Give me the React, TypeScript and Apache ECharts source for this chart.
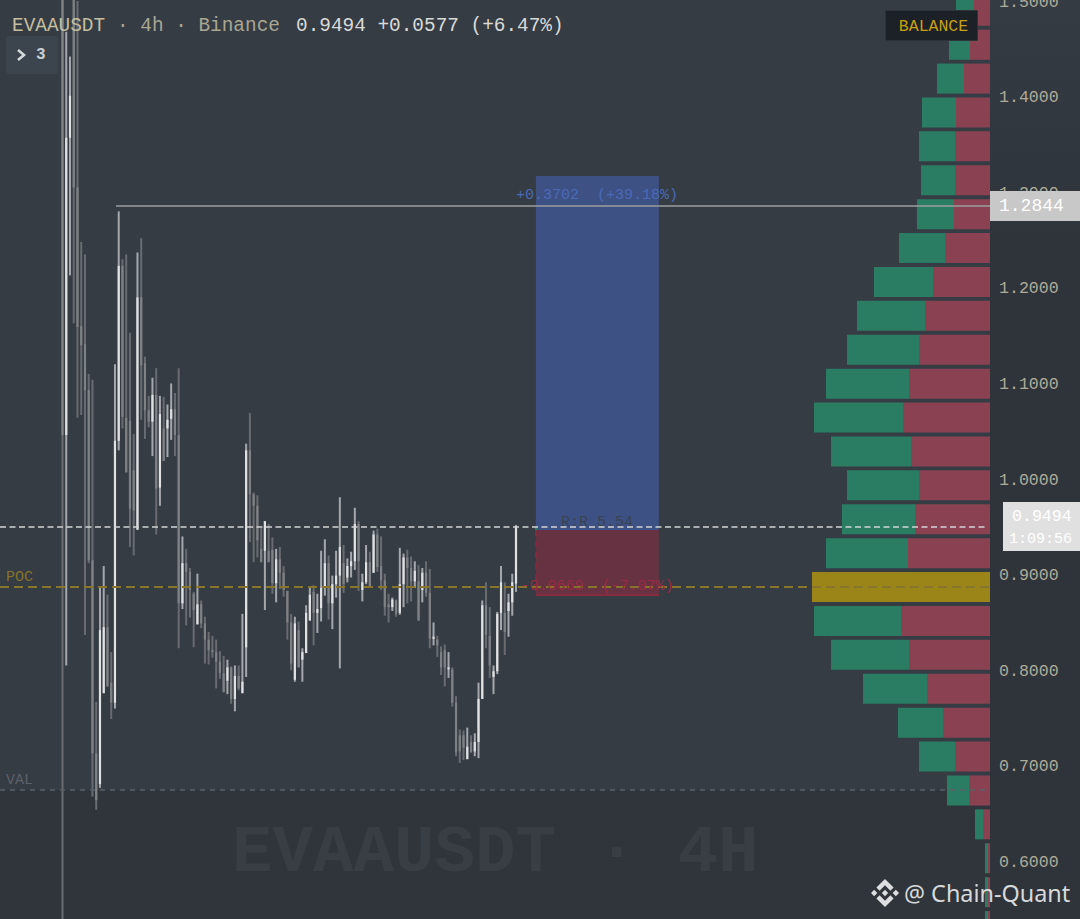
import React, { useEffect, useRef } from "react";
import * as echarts from "echarts";

const MONO = '"Liberation Mono", monospace';

// OHLC per 4h candle
const HIGH = [
  1.53,1.469,1.443,1.52,1.501,1.249,1.236,1.111,1.105,.768,
  .889,.910,.880,.820,1.121,1.281,1.231,1.236,1.154,1.048,
  1.238,1.253,1.129,1.088,1.107,1.117,1.088,1.087,1.079,1.101,
  1.091,1.117,.941,.928,.908,.883,.902,.874,.857,.841,
  .837,.833,.821,.816,.812,.805,.806,.806,.860,1.038,
  1.070,.987,.984,.950,.957,.954,.940,.928,.930,.910,
  .884,.860,.857,.852,.824,.869,.888,.890,.881,.926,
  .938,.921,.900,.926,.982,.932,.918,.925,.971,.957,
  .902,.932,.925,.947,.949,.941,.902,.881,.877,.875,
  .929,.923,.927,.920,.915,.911,.908,.915,.907,.851,
  .837,.826,.828,.820,.804,.774,.739,.738,.741,.733,
  .735,.788,.874,.893,.867,.806,.862,.910,.893,.881,.902,.953,
];
const OPEN = [
  1.52,1.047,1.358,1.507,1.306,1.161,1.142,1.094,.916,.714,
  .682,.777,.846,.788,.767,1.041,1.224,1.065,1.062,1.010,
  .948,1.191,1.122,1.073,1.061,1.089,.992,1.054,1.054,1.064,
  1.074,1.047,.871,.913,.904,.881,.849,.870,.850,.833,
  .822,.820,.810,.798,.790,.804,.771,.795,.777,.825,
  1.031,.985,.973,.928,.926,.926,.927,.892,.917,.903,
  .884,.851,.791,.843,.812,.819,.853,.883,.861,.866,
  .887,.913,.871,.891,.900,.913,.898,.910,.915,.954,
  .885,.893,.914,.903,.943,.910,.895,.870,.867,.874,
  .861,.891,.919,.908,.894,.894,.885,.903,.882,.834,
  .833,.820,.822,.802,.802,.767,.733,.733,.708,.726,
  .716,.726,.771,.869,.837,.794,.800,.861,.861,.863,.872,.8917,
];
const CLOSE = [
  1.047,1.358,1.402,1.306,1.160,1.141,1.094,.916,.714,.665,
  .843,.846,.784,.767,1.041,1.224,1.066,1.008,.970,.968,
  1.191,1.120,1.073,1.061,1.089,.991,1.069,1.020,1.063,1.074,
  1.047,.871,.913,.904,.885,.864,.870,.850,.833,.822,
  .820,.810,.798,.778,.804,.771,.795,.782,.789,1.031,
  .985,.973,.937,.914,.957,.914,.892,.917,.903,.885,
  .851,.808,.850,.804,.820,.861,.880,.861,.865,.887,
  .913,.871,.891,.900,.930,.891,.910,.915,.954,.915,
  .893,.914,.889,.943,.909,.895,.867,.867,.875,.860,
  .891,.919,.908,.894,.905,.853,.903,.882,.834,.836,
  .827,.804,.804,.804,.767,.715,.716,.720,.721,.715,
  .726,.771,.869,.838,.806,.800,.860,.893,.841,.872,.893,.951,
];
const LOW = [
  .52,.806,1.214,1.164,1.065,1.068,.838,.913,.669,.655,
  .678,.777,.784,.750,.761,1.031,1.054,1.008,.930,.921,
  .948,1.063,1.043,1.055,1.025,.943,.973,1.020,1.024,1.042,
  1.025,.824,.865,.848,.856,.825,.849,.845,.808,.807,
  .814,.782,.792,.778,.776,.766,.758,.780,.777,.794,
  .935,.914,.919,.914,.864,.914,.881,.872,.886,.878,
  .833,.801,.789,.804,.789,.819,.853,.827,.840,.852,
  .879,.854,.844,.877,.803,.882,.893,.898,.906,.884,
  .873,.891,.889,.903,.904,.885,.858,.851,.863,.857,
  .859,.867,.871,.873,.887,.853,.872,.878,.824,.827,
  .815,.796,.784,.793,.763,.711,.704,.707,.708,.715,
  .711,.709,.771,.824,.793,.776,.797,.843,.817,.836,.858,.883,
];

// Volume profile rows
const PROFILE_PRICE = [
  1.4908,1.4553,1.4199,1.3844,1.3490,1.3135,1.2781,1.2426,1.2071,1.1717,
  1.1362,1.1008,1.0653,1.0298,.9944,.9589,.9235,.888,.8525,.8171,
  .7816,.7462,.7107,.6752,.6398,.6043,.5689,.5334,
];
const PROFILE_BUY = [18,21,27,34,36,34,37,46,59,68,72,83,89,80,72,73,82,90,87,78,64,45,36,22,8,3,3,3];
const PROFILE_SELL = [16,20,26,34,35,35,36,45,57,65,71,81,87,79,71,75,82,88,89,81,63,47,35,21,7,2,2,2];
const POC_ROW = 17;
const ROW_HEIGHT = 0.0314;

const TICKS = [0.6, 0.7, 0.8, 0.9, 1.0, 1.1, 1.2, 1.3, 1.4, 1.5];

const AXIS_MIN = 0.5408;
const AXIS_MAX = 1.5021;
const X_MIN = -16.675;
const X_MAX = 247.47;

const HIGH_LEVEL = 1.2866;
const HIGH_START = 14.27;
const LAST_LEVEL = 0.9509;
const POC_LEVEL = 0.888;
const VAL_LEVEL = 0.6757;
const TARGET = 1.318;
const ENTRY = 0.9478;
const STOP = 0.8799;
const POS_START = 126.3;
const POS_END = 159.1;

const candleData = HIGH.map((h, i) => [i, OPEN[i], CLOSE[i], LOW[i], h]);
const profileData = PROFILE_PRICE.map((p, i) => [p, PROFILE_BUY[i], PROFILE_SELL[i], i]);

const BINANCE =
  "M16.624 13.9202l2.7175 2.7154-7.353 7.353-7.353-7.352 2.7175-2.7164 4.6355 4.6595 4.6356-4.6595zm4.6366-4.6366L24 12l-2.7154 2.7164L18.5682 12l2.6924-2.7164zm-9.272.001l2.7163 2.6914-2.7164 2.7174v-.001L9.2721 12l2.7164-2.7154zm-9.2722-.001L5.4088 12l-2.6914 2.6924L0 12l2.7164-2.7164zM11.9885.0115l7.353 7.329-2.7174 2.7154-4.6356-4.6356-4.6355 4.6595-2.7174-2.7154 7.353-7.353z";
echarts.graphic.registerShape("binanceLogo", echarts.graphic.extendPath(BINANCE, {}));

const txt = (text: string, x: number, y: number, fill: string, font: string, align = "left", extra: any = {}) => ({
  type: "text",
  x,
  y,
  z: 50,
  silent: true,
  style: { text, fill, font, align, verticalAlign: "middle", ...extra },
});

function renderCandle(_: any, api: any) {
  const i = api.value(0);
  const o = api.value(1);
  const c = api.value(2);
  const up = c >= o;
  const x = api.coord([i, o])[0];
  const yH = api.coord([i, api.value(4)])[1];
  const yL = api.coord([i, api.value(3)])[1];
  const yO = api.coord([i, o])[1];
  const yC = api.coord([i, c])[1];
  const top = Math.min(yO, yC);
  const h = Math.abs(yO - yC);
  return {
    type: "group",
    children: [
      { type: "rect", shape: { x: x - 1, y: yH, width: 2, height: yL - yH }, style: { fill: up ? "#a4a8ac" : "#686c70" } },
      { type: "rect", shape: { x: x - 1.1, y: top, width: 2.2, height: h }, style: { fill: up ? "#dfe1e3" : "#7e8285" } },
    ],
  };
}

function renderProfile(_: any, api: any) {
  const p = api.value(0);
  const buy = api.value(1);
  const sell = api.value(2);
  const row = api.value(3);
  const poc = row === POC_ROW;
  const yT = api.coord([0, p + ROW_HEIGHT / 2])[1];
  const yB = api.coord([0, p - ROW_HEIGHT / 2])[1];
  const x0 = api.coord([0, p])[0];
  const x1 = api.coord([sell, p])[0];
  const x2 = api.coord([sell + buy, p])[0];
  return {
    type: "group",
    children: [
      { type: "rect", shape: { x: x1, y: yT, width: x0 - x1, height: yB - yT }, style: { fill: poc ? "#9b8519" : "#8a4252" } },
      { type: "rect", shape: { x: x2, y: yT, width: x1 - x2, height: yB - yT }, style: { fill: poc ? "#9b8519" : "#2a7d63" } },
    ],
  };
}

const line = (x1: number, y1: number, x2: number, y2: number, color: string, width: number, type: any) => [
  { coord: [x1, y1], lineStyle: { color, width, type, opacity: 1 } },
  { coord: [x2, y2] },
];

export default function App() {
  const ref = useRef<HTMLDivElement>(null);
  useEffect(() => {
    const chart = echarts.init(ref.current!, null, { renderer: "svg" });
    chart.setOption({
      animation: false,
      backgroundColor: "#353c44",
      grid: { left: 0, right: 90, top: 0, bottom: 0, containLabel: false, outerBoundsMode: "none" },
      xAxis: [
        { type: "value", min: X_MIN, max: X_MAX, show: false },
        { type: "value", min: 0, max: 990, inverse: true, show: false },
      ],
      yAxis: {
        type: "value",
        min: AXIS_MIN,
        max: AXIS_MAX,
        position: "right",
        axisLine: { show: false },
        axisTick: { show: false },
        splitLine: { show: false },
        axisLabel: {
          customValues: TICKS,
          margin: 9,
          color: "#aeab99",
          fontFamily: MONO,
          fontSize: 16.6,
          formatter: (v: number) => v.toFixed(4),
        },
      },
      series: [
        {
          type: "line",
          z: 0,
          silent: true,
          showSymbol: false,
          data: [[0, VAL_LEVEL]],
          lineStyle: { width: 0 },
          markArea: {
            silent: true,
            z: 0,
            data: [
              [{ coord: [X_MIN, VAL_LEVEL], itemStyle: { color: "#2f353b", opacity: 1 } }, { coord: [X_MAX, AXIS_MIN] }],
            ],
          },
        },
        {
          type: "custom",
          z: 3,
          silent: true,
          clip: true,
          xAxisIndex: 0,
          yAxisIndex: 0,
          renderItem: renderCandle,
          data: candleData,
        },
        {
          type: "custom",
          z: 2,
          silent: true,
          xAxisIndex: 1,
          yAxisIndex: 0,
          renderItem: renderProfile,
          data: profileData,
        },
        {
          type: "line",
          z: 4,
          silent: true,
          showSymbol: false,
          data: [[POS_START, ENTRY]],
          lineStyle: { width: 0 },
          markArea: {
            silent: true,
            z: 1,
            data: [
              [{ coord: [POS_START, TARGET], itemStyle: { color: "#3d5185", opacity: 1 } }, { coord: [POS_END, ENTRY] }],
              [{ coord: [POS_START, ENTRY], itemStyle: { color: "#673342", opacity: 1 } }, { coord: [POS_END, STOP] }],
            ],
          },
          markLine: {
            silent: true,
            symbol: "none",
            label: { show: false },
            z: 6,
            data: [
              line(POS_START, STOP, POS_END, STOP, "#8a2a3f", 2, "solid"),
              line(POS_START, ENTRY, POS_START, STOP, "#8f2a40", 1.5, [6, 5]),
              line(POS_START, LAST_LEVEL, POS_START, ENTRY, "#2a7d63", 2, "solid"),
              line(X_MIN, VAL_LEVEL, X_MAX, VAL_LEVEL, "#5a6068", 1.5, [5, 5]),
              line(X_MIN, POC_LEVEL, X_MAX, POC_LEVEL, "#86752a", 2, [9, 5]),
              line(X_MIN, LAST_LEVEL, 246.9, LAST_LEVEL, "#d2d4d5", 1.6, [6, 3.5]),
              line(HIGH_START, HIGH_LEVEL, X_MAX, HIGH_LEVEL, "#9b9e9f", 1.6, "solid"),
            ],
          },
        },
      ],
      graphic: [
        {
          type: "rect",
          z: -1,
          silent: true,
          shape: { x: 990, y: 0, width: 90, height: 919 },
          style: {
            fill: new echarts.graphic.LinearGradient(0, 0, 0, 1, [
              { offset: 0, color: "#353b43" },
              { offset: 0.26, color: "#2e343a" },
              { offset: 1, color: "#2e343a" },
            ]),
          },
        },
        {
          type: "text",
          x: 232,
          y: 853,
          z: 1,
          silent: true,
          style: { text: "EVAAUSDT · 4H", fill: "#383e44", font: `bold 67.5px ${MONO}`, align: "left", verticalAlign: "middle" },
        },
        txt("EVAAUSDT", 12, 26, "#c4bd9f", `19.4px ${MONO}`),
        txt("· 4h · Binance", 117, 26, "#a9a693", `19.4px ${MONO}`),
        txt("0.9494 +0.0577 (+6.47%)", 296, 26, "#d9dad8", `19.4px ${MONO}`),
        { type: "rect", z: 49, silent: true, shape: { x: 6, y: 36, width: 52, height: 38, r: 3 }, style: { fill: "#3c444e" } },
        {
          type: "polyline",
          z: 50,
          silent: true,
          shape: { points: [[18, 50], [24, 55], [18, 60]] },
          style: { stroke: "#d5d8da", lineWidth: 2.6, fill: "none" },
        },
        txt("3", 36, 55, "#c9ced2", `bold 16px ${MONO}`),
        {
          type: "rect",
          z: 49,
          silent: true,
          shape: { x: 885.5, y: 10.5, width: 92, height: 30, r: 1 },
          style: { fill: "#1b2126", stroke: "#2c343a", lineWidth: 1 },
        },
        txt("BALANCE", 933.5, 26, "#c89f11", `16.5px ${MONO}`, "center"),
        txt("POC", 6, 577, "#84732a", `15px ${MONO}`),
        txt("VAL", 6, 780, "#5b6169", `15px ${MONO}`),
        txt("+0.3702  (+39.18%)", 597, 195, "#4a6ab5", `15px ${MONO}`, "center"),
        txt("R:R 5.54", 597, 522, "#3a4352", `15px ${MONO}`, "center"),
        txt("-0.0669  (-7.07%)", 597, 586, "#9a2a42", `15px ${MONO}`, "center"),
        { type: "rect", z: 49, silent: true, shape: { x: 990, y: 191, width: 90, height: 30 }, style: { fill: "#c8c8c8" } },
        txt("1.2844", 999, 206, "#ffffff", `18px ${MONO}`),
        { type: "rect", z: 49, silent: true, shape: { x: 1003, y: 502, width: 77, height: 49 }, style: { fill: "#e0e0e0" } },
        txt("0.9494", 1012, 516, "#ffffff", `16.6px ${MONO}`),
        txt("1:09:56", 1009, 539, "#ffffff", `15px ${MONO}`),
        {
          type: "binanceLogo",
          x: 871,
          y: 879,
          z: 50,
          silent: true,
          scaleX: 28 / 24,
          scaleY: 28 / 24,
          style: { fill: "#dcdedf" },
        },
        txt("@ Chain-Quant", 904, 893, "#d7d9da", '23.4px "Noto Sans", sans-serif', "left", {
          shadowColor: "rgba(0,0,0,0.5)",
          shadowBlur: 2,
        }),
      ],
    });
    return () => chart.dispose();
  }, []);
  return <div ref={ref} style={{ position: "fixed", left: 0, top: 0, width: 1080, height: 919 }} />;
}
